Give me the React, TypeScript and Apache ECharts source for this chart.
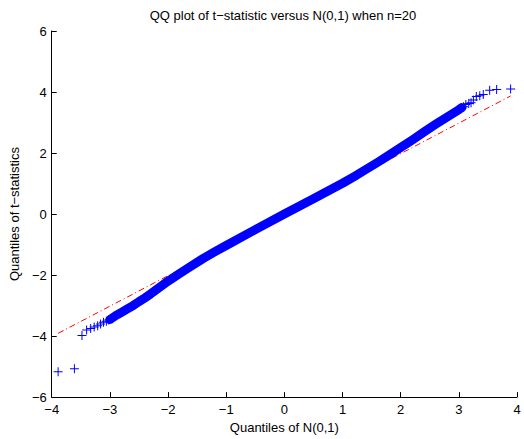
import React, { useEffect, useRef } from "react";
import * as echarts from "echarts";

// Theoretical quantiles (N(0,1)) and sample quantiles
const bandX = [-3.0, -2.9, -2.8, -2.7, -2.6, -2.5, -2.4, -2.3, -2.2, -2.1, -2.0, -1.8, -1.6, -1.4, -1.2, -1.0, -0.5, 0, 0.5, 1.0, 1.2, 1.4, 1.6, 1.8, 2.0, 2.2, 2.4, 2.6, 2.8, 3.0, 3.05];
const bandY = [-3.46, -3.33, -3.22, -3.11, -3.0, -2.87, -2.75, -2.62, -2.48, -2.34, -2.2, -1.95, -1.7, -1.46, -1.24, -1.03, -0.51, 0.0, 0.5, 1.01, 1.23, 1.46, 1.69, 1.93, 2.18, 2.43, 2.69, 2.94, 3.18, 3.42, 3.49];
const lowTailX = [-3.89, -3.61, -3.48, -3.40, -3.33, -3.27, -3.21, -3.16, -3.11, -3.06, -3.02];
const lowTailY = [-5.17, -5.07, -3.98, -3.80, -3.75, -3.70, -3.66, -3.60, -3.55, -3.51, -3.47];
const highTailX = [3.08, 3.12, 3.17, 3.21, 3.25, 3.30, 3.36, 3.42, 3.53, 3.65, 3.89];
const highTailY = [3.52, 3.59, 3.62, 3.65, 3.74, 3.85, 3.88, 3.92, 4.06, 4.08, 4.10];
// Reference line (through quartiles), drawn over the data range
const refX = [-3.89, 3.89];
const refY = [-3.91, 3.87];

const xTicks = [-4, -3, -2, -1, 0, 1, 2, 3, 4];
const yTicks = [-6, -4, -2, 0, 2, 4, 6];

const FONT = "Liberation Sans, Arial, Helvetica, sans-serif";
const PLUS = "path://M4,0h1v4h4v1h-4v4h-1v-4h-4v-1h4z";

const zip = (xs: number[], ys: number[]) => xs.map((x, i) => [x, ys[i]]);
const minusFmt = (v: number) => String(v).replace("-", "\u2212");

export default function App() {
  const ref = useRef<HTMLDivElement>(null);
  useEffect(() => {
    if (!ref.current) return;
    const chart = echarts.init(ref.current, undefined, { renderer: "svg" });
    const axisCommon = {
      axisLine: { show: true, onZero: false, lineStyle: { color: "#000", width: 1 } },
      axisTick: { show: true, inside: true, length: 5, lineStyle: { color: "#000" } },
      splitLine: { show: false },
      axisLabel: { color: "#000", fontSize: 13, fontFamily: FONT, formatter: minusFmt },
      nameTextStyle: { color: "#000", fontSize: 13, fontFamily: FONT },
    };
    chart.setOption({
      animation: false,
      backgroundColor: "#fff",
      grid: { left: 49, right: 7, top: 31, bottom: 32 },
      xAxis: {
        type: "value",
        min: xTicks[0],
        max: xTicks[xTicks.length - 1],
        interval: 1,
        name: "Quantiles of N(0,1)",
        nameLocation: "middle",
        nameGap: 22,
        ...axisCommon,
        axisLabel: { ...axisCommon.axisLabel, margin: 6 },
      },
      yAxis: {
        type: "value",
        min: yTicks[0],
        max: yTicks[yTicks.length - 1],
        interval: 2,
        name: "Quantiles of t\u2212statistics",
        nameLocation: "middle",
        nameGap: 28,
        ...axisCommon,
        axisLabel: { ...axisCommon.axisLabel, margin: 5 },
      },
      graphic: [
        {
          type: "text",
          x: 283,
          y: 15,
          style: {
            text: "QQ plot of t\u2212statistic versus N(0,1) when n=20",
            fill: "#000",
            font: `13px ${FONT}`,
            align: "center",
            verticalAlign: "middle",
          },
        },
      ],
      series: [
        {
          type: "line",
          data: zip(bandX, bandY),
          showSymbol: false,
          symbol: "none",
          lineStyle: { color: "#0000ff", width: 9, cap: "round", join: "round" },
          z: 2,
        },
        {
          type: "scatter",
          data: [...zip(lowTailX, lowTailY), ...zip(highTailX, highTailY)],
          symbol: PLUS,
          symbolSize: 9,
          itemStyle: { color: "#0000ff", opacity: 1 },
          z: 3,
        },
        {
          type: "line",
          data: zip(refX, refY),
          showSymbol: false,
          symbol: "none",
          lineStyle: { color: "#ff0000", width: 1, type: [6, 3, 1, 3] },
          z: 1,
        },
      ],
    });
    return () => chart.dispose();
  }, []);
  return (
    <div
      ref={ref}
      style={{ position: "fixed", left: 0, top: 0, width: 524, height: 439 }}
    />
  );
}
